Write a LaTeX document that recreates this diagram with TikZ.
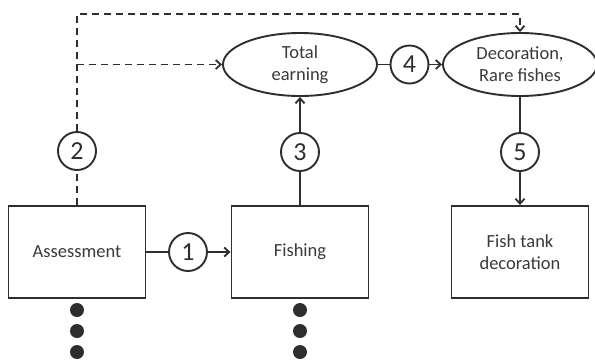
\documentclass[tikz,border=0pt]{standalone}
\usepackage{fontspec}
\setmainfont{Carlito}
\usetikzlibrary{arrows.meta,shapes.geometric}
\definecolor{ink}{HTML}{2E2E2E}
\definecolor{txt}{HTML}{3A3A3A}
\begin{document}
\begin{tikzpicture}[x=1pt,y=-1pt,line width=1.9pt,color=ink,
  box/.style={draw=ink,rectangle,minimum width=137pt,minimum height=92pt,inner sep=0pt,
    text=txt,align=center,font=\fontsize{18.5}{22}\selectfont},
  oval/.style={draw=ink,ellipse,minimum width=154pt,minimum height=63pt,inner sep=0pt,
    text=txt,align=center,font=\fontsize{18.5}{22}\selectfont},
  num/.style={draw=ink,circle,minimum size=38pt,inner sep=0pt,text=ink,
    font=\fontsize{26}{26}\selectfont},
  bullet/.style={circle,fill=ink,minimum size=14pt,inner sep=0pt},
  flow/.style={-{Straight Barb[length=5pt,width=9pt,line width=1.8pt]}},
  dashline/.style={dash pattern=on 7pt off 5pt}]
\useasboundingbox (0,0) rectangle (595,360);

% boxes
\node[box] (assess) at (77,252) {Assessment};
\node[box] (fish) at (300,252) {Fishing};
\node[box] (tank) at (520,252) {Fish tank\\decoration};

% ellipses
\node[oval] (earn) at (300,64.5) {Total\\earning};
\node[oval] (deco) at (520,64.5) {Decoration,\\Rare fishes};

% numbered steps
\node[num] (n1) at (188,252) {1};
\node[num] (n2) at (77,151) {2};
\node[num] (n3) at (300,152) {3};
\node[num] (n4) at (409.5,64.5) {4};
\node[num] (n5) at (520,152) {5};

% solid flow
\draw (assess.east) -- (n1.west);
\draw[flow] (n1.east) -- (fish.west);
\draw (fish.north) -- (n3.south);
\draw[flow] (n3.north) -- (earn.south);
\draw (earn.east) -- (n4.west);
\draw[flow] (n4.east) -- (deco.west);
\draw (deco.south) -- (n5.north);
\draw[flow] (n5.south) -- (tank.north);

% dashed feedback
\coordinate (split) at (77,64.5);
\coordinate (corner) at (77,14);
\draw[dashline] (assess.north) -- (n2.south);
\draw[dashline,flow] (n2.north) -- (corner) -| (deco.north);
\draw[dashline,flow] (split) -- (earn.west);

% continuation dots
\foreach \y [count=\i] in {310,331,352}{
  \node[bullet] (a\i) at (77,\y) {};
  \node[bullet] (f\i) at (300,\y) {};
}
\end{tikzpicture}
\end{document}
